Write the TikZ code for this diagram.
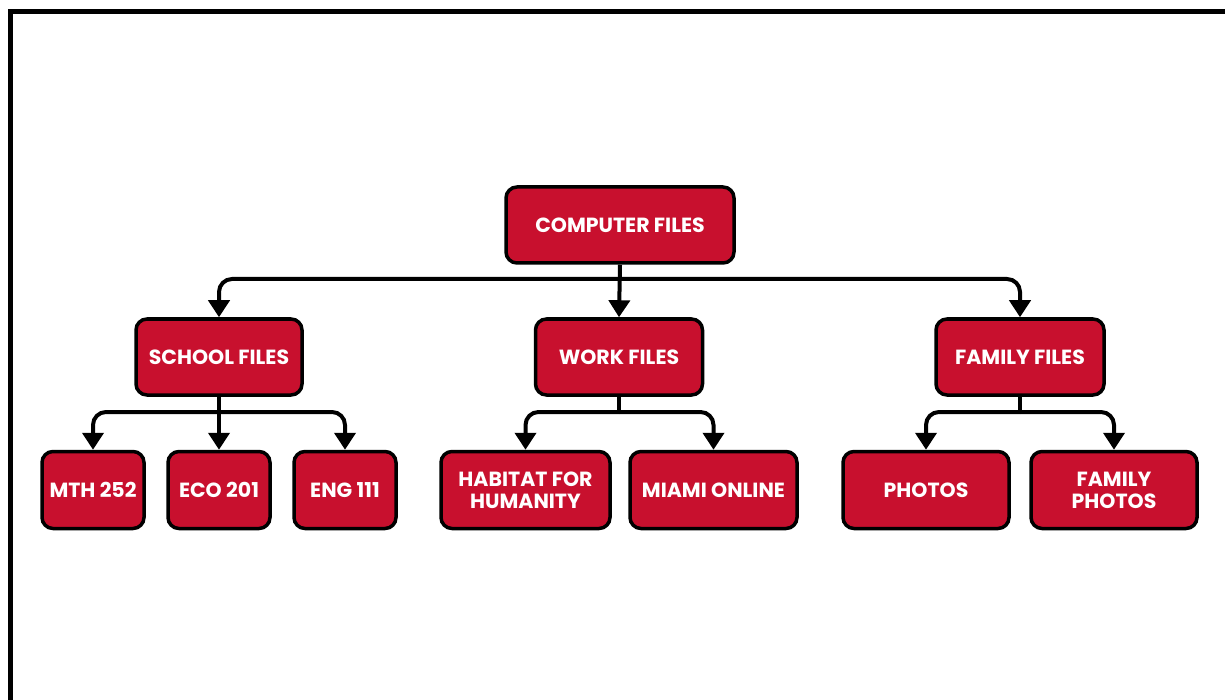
\documentclass[tikz,border=0pt]{standalone}
\usepackage{fontspec}
\setmainfont{Poppins}
\usetikzlibrary{arrows.meta,calc}
\definecolor{mred}{HTML}{C8102E}
\tikzset{
  fbox/.style={draw=black, line width=3.5pt, fill=mred, rounded corners=11pt,
    text=white, font=\fontsize{20.5}{22}\selectfont\bfseries, align=center,
    minimum height=76pt, inner sep=2pt},
  conn/.style={draw=black, line width=4pt, rounded corners=13pt,
    -{Triangle[width=21pt,length=17pt]}},
  plain/.style={draw=black, line width=4pt},
}
\begin{document}
\begin{tikzpicture}[x=1pt,y=1pt]
\useasboundingbox (0,0) rectangle (1225,-700);
\fill[white] (0,0) rectangle (1225,-700);
\draw[line width=5pt] (10.5,-700) -- (10.5,-11.5) -- (1225,-11.5);
% nodes
\node[fbox, minimum width=228pt] (cf) at (620,-225) {COMPUTER FILES};
\node[fbox, minimum width=166pt] (sf) at (219,-357) {SCHOOL FILES};
\node[fbox, minimum width=167pt] (wf) at (619,-357) {WORK FILES};
\node[fbox, minimum width=168pt] (ff) at (1020,-357) {FAMILY FILES};
\node[fbox, minimum width=102pt, minimum height=77pt] (m1) at (93,-490) {MTH 252};
\node[fbox, minimum width=102pt, minimum height=77pt] (m2) at (219,-490) {ECO 201};
\node[fbox, minimum width=102pt, minimum height=77pt] (m3) at (345,-490) {ENG 111};
\node[fbox, minimum width=169pt, minimum height=77pt] (h) at (525.5,-490) {HABITAT FOR\\HUMANITY};
\node[fbox, minimum width=167pt, minimum height=77pt] (mo) at (713.5,-490) {MIAMI ONLINE};
\node[fbox, minimum width=166pt, minimum height=77pt] (p) at (926,-490) {PHOTOS};
\node[fbox, minimum width=166pt, minimum height=77pt] (fp) at (1114,-490) {FAMILY\\PHOTOS};
% bar coordinates
\coordinate (b0) at (620,-279);
\coordinate (b1) at (219,-412);
\coordinate (b2) at (619,-412);
\coordinate (b3) at (1020,-412);
% connectors
\draw[conn] (cf.south) -- (wf.north);
\draw[conn] (b0) -| (sf.north);
\draw[conn] (b0) -| (ff.north);
\draw[conn] (sf.south) -- (m2.north);
\draw[conn] (b1) -| (m1.north);
\draw[conn] (b1) -| (m3.north);
\draw[plain] (wf.south) -- (b2);
\draw[conn] (b2) -| (h.north);
\draw[conn] (b2) -| (mo.north);
\draw[plain] (ff.south) -- (b3);
\draw[conn] (b3) -| (p.north);
\draw[conn] (b3) -| (fp.north);
\end{tikzpicture}
\end{document}
